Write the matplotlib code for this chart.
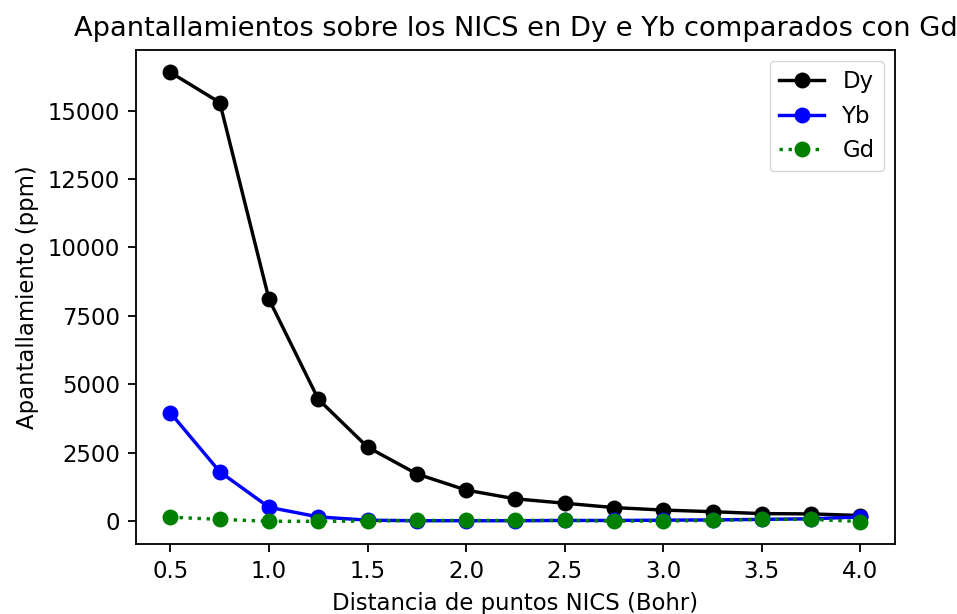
import numpy as np
from matplotlib import pyplot as plt

# distancias de los puntos NICS (Bohr)
distancias = np.arange(0.5, 4.01, 0.25)

# apantallamientos (ppm)
dy = [16400, 15300, 8100, 4450, 2700, 1720, 1130, 810, 650, 490, 400, 340, 270, 260, 200]
yb = [3950, 1800, 500, 150, 30, 10, 10, 10, 20, 20, 30, 40, 60, 80, 150]
gd = [140, 60, -10, -10, 0, 20, 20, 20, 20, 0, 0, 20, 60, 60, -20]

esc = 1.635
plt.rcParams["font.size"] = 10 * esc

fig = plt.figure(figsize=(9.57, 6.14), dpi=100)
ax = fig.add_axes([0.1421, 0.114, 0.7931, 0.8046])

estilo = dict(lw=1.5 * esc, ms=6 * esc, mew=1 * esc)
ax.plot(distancias, dy, "o-", color="k", label="Dy", **estilo)
ax.plot(distancias, yb, "o-", color="b", label="Yb", **estilo)
ax.plot(distancias, gd, "o:", color="g", label="Gd", **estilo)

ax.set_title("Apantallamientos sobre los NICS en Dy e Yb comparados con Gd",
             fontsize=12 * esc, pad=6 * esc)
ax.set_xlabel("Distancia de puntos NICS (Bohr)", labelpad=4 * esc)
ax.set_ylabel("Apantallamiento (ppm)", labelpad=4 * esc)
ax.set_xticks(np.arange(0.5, 4.01, 0.5))
ax.set_yticks(np.arange(0, 15001, 2500))
ax.tick_params(length=3.5 * esc, width=0.8 * esc, pad=3.5 * esc)
for s in ax.spines.values():
    s.set_linewidth(0.8 * esc)

ax.legend(loc="upper right")

fig.savefig("out.png")
plt.close("all")
